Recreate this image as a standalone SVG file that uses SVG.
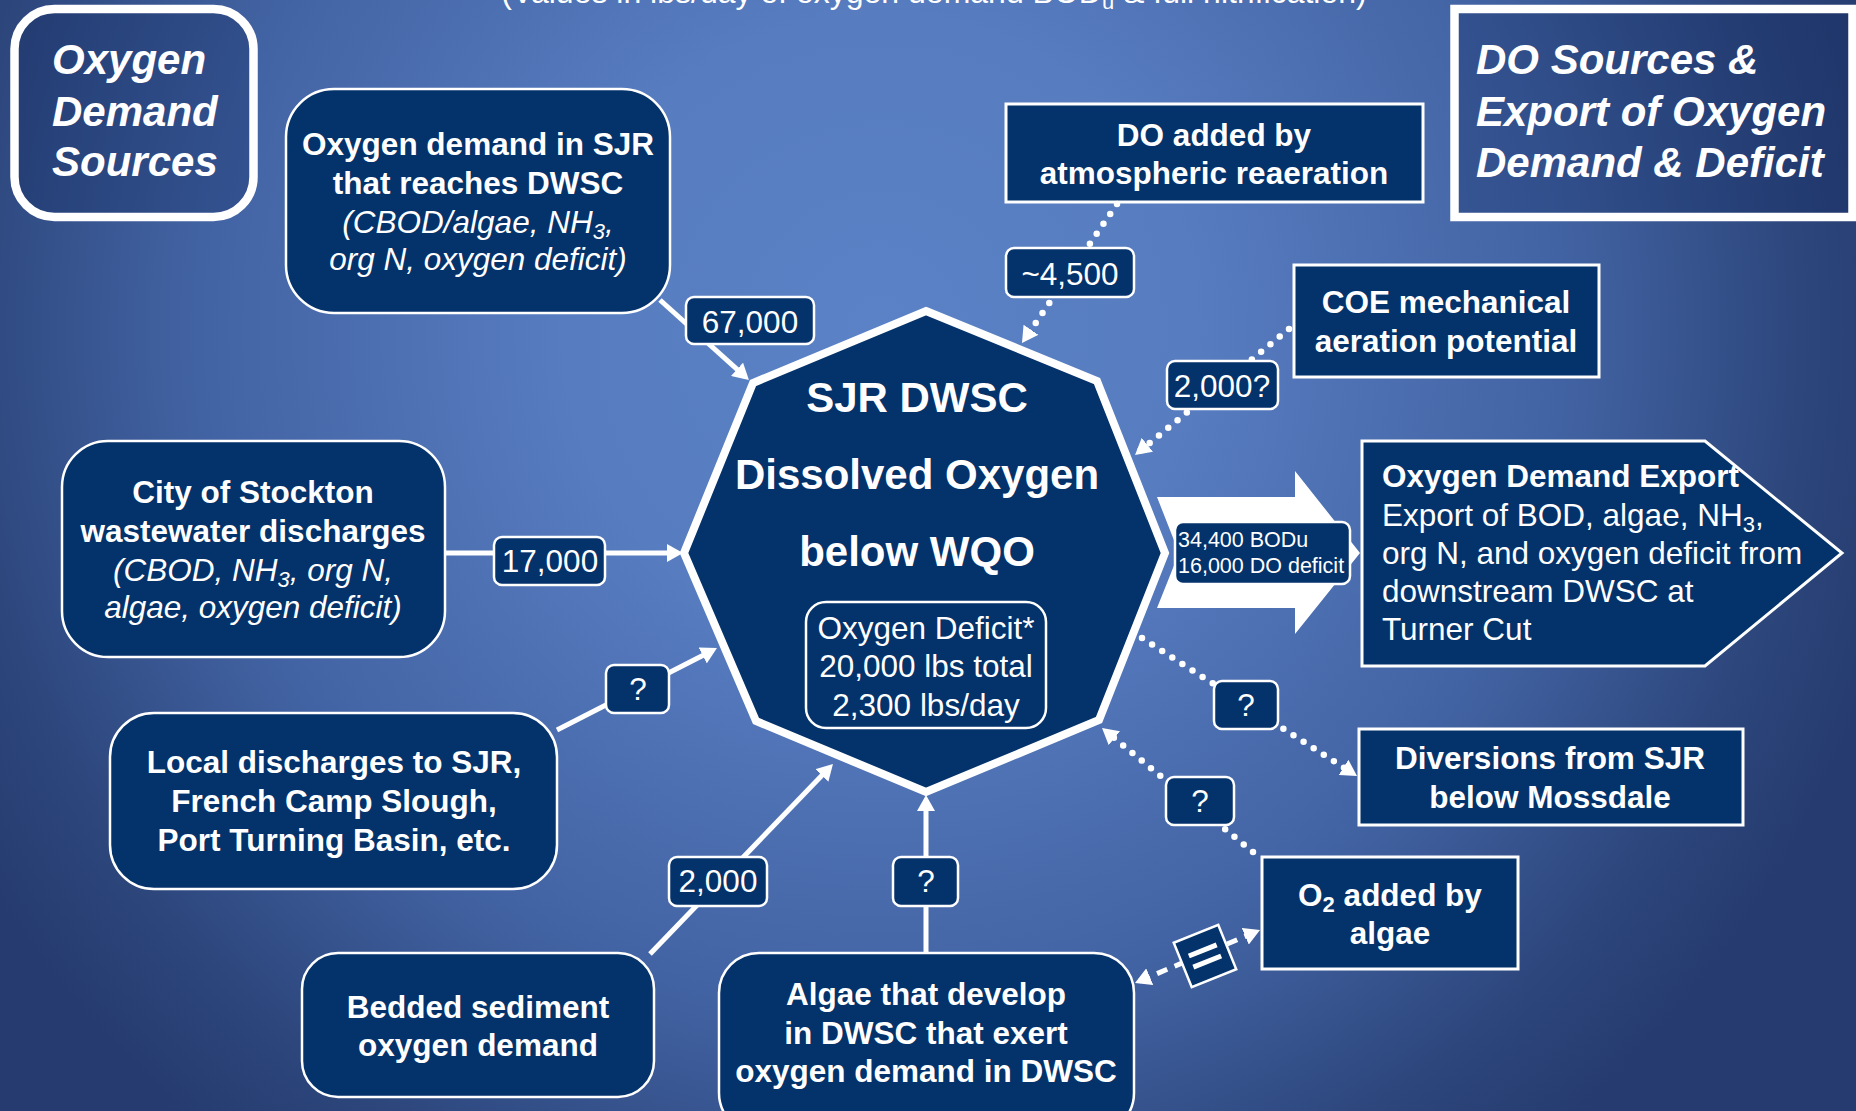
<svg xmlns="http://www.w3.org/2000/svg" width="1856" height="1111" viewBox="0 0 1856 1111">
<defs>
<radialGradient id="bg" gradientUnits="userSpaceOnUse" cx="880" cy="330" r="1050">
<stop offset="0" stop-color="#5b82c6"/>
<stop offset="0.3" stop-color="#577cc0"/>
<stop offset="0.65" stop-color="#4263a3"/>
<stop offset="0.9" stop-color="#2b4479"/>
<stop offset="1" stop-color="#263c70"/>
</radialGradient>
<marker id="ah" viewBox="0 0 16 18" refX="11" refY="9" markerWidth="16" markerHeight="18" markerUnits="userSpaceOnUse" orient="auto-start-reverse">
<path d="M0,0 L16,9 L0,18 z" fill="#fff"/>
</marker>
<style>
.nb{fill:#04326b;stroke:#fff;stroke-width:2.5}
.nr{fill:#04326b;stroke:#fff;stroke-width:3}
.tbox{fill:#0d2459;fill-opacity:0.3;stroke:#fff;stroke-width:8.5}
.t{font-family:"Liberation Sans",Arial,sans-serif;fill:#fff;font-size:31.5px}
.b{font-weight:bold}
.i{font-style:italic}
.m{text-anchor:middle}
.big{font-size:42px}
.small{font-size:21.5px}
.top{font-size:32px}
.title{font-family:"Liberation Sans",Arial,sans-serif;fill:#fff;font-size:42px;font-weight:bold;font-style:italic}
.solid{fill:none;stroke:#fff;stroke-width:5;marker-end:url(#ah)}
.dot{fill:none;stroke:#fff;stroke-width:6.5;stroke-linecap:round;stroke-dasharray:0 12;marker-end:url(#ah)}
.dash{fill:none;stroke:#fff;stroke-width:5;stroke-dasharray:11 8;marker-start:url(#ah);marker-end:url(#ah)}
.lb{fill:#04326b;stroke:#fff;stroke-width:2.5}
</style>
</defs>
<rect x="0" y="0" width="1856" height="1111" fill="url(#bg)"/>

<text class="t m top" x="934" y="3">(Values in lbs/day of oxygen demand BOD<tspan dy="6" font-size="22">u</tspan><tspan dy="-6"> &amp; full nitrification)</tspan></text>

<g id="node-oxygen-demand-sources">
<rect class="tbox" x="14.5" y="9" width="239" height="208" rx="40"/>
<text class="title" x="52" y="74">Oxygen</text>
<text class="title" x="52" y="126">Demand</text>
<text class="title" x="52" y="176">Sources</text>
</g>

<g id="node-do-sources">
<rect class="tbox" x="1454.5" y="9" width="398" height="208"/>
<text class="title" x="1476" y="74">DO Sources &amp;</text>
<text class="title" x="1476" y="126">Export of Oxygen</text>
<text class="title" x="1476" y="177">Demand &amp; Deficit</text>
</g>

<g id="node-sjr-demand">
<rect class="nb" x="286" y="89" width="384" height="224" rx="48"/>
<text class="t b m" x="478" y="155">Oxygen demand in SJR</text>
<text class="t b m" x="478" y="194">that reaches DWSC</text>
<text class="t i m" x="478" y="233">(CBOD/algae, NH<tspan dy="6" font-size="22">3</tspan><tspan dy="-6">,</tspan></text>
<text class="t i m" x="478" y="270">org N, oxygen deficit)</text>
</g>

<g id="node-stockton">
<rect class="nb" x="62" y="441" width="383" height="216" rx="46"/>
<text class="t b m" x="253" y="503">City of Stockton</text>
<text class="t b m" x="253" y="542">wastewater discharges</text>
<text class="t i m" x="253" y="581">(CBOD, NH<tspan dy="6" font-size="22">3</tspan><tspan dy="-6">, org N,</tspan></text>
<text class="t i m" x="253" y="618">algae, oxygen deficit)</text>
</g>

<g id="node-local">
<rect class="nb" x="110" y="713" width="447" height="176" rx="44"/>
<text class="t b m" x="334" y="773">Local discharges to SJR,</text>
<text class="t b m" x="334" y="812">French Camp Slough,</text>
<text class="t b m" x="334" y="851">Port Turning Basin, etc.</text>
</g>

<g id="node-bedded">
<rect class="nb" x="302" y="953" width="352" height="144" rx="36"/>
<text class="t b m" x="478" y="1018">Bedded sediment</text>
<text class="t b m" x="478" y="1056">oxygen demand</text>
</g>

<g id="node-algae">
<rect class="nb" x="719" y="953" width="415" height="180" rx="40"/>
<text class="t b m" x="926" y="1005">Algae that develop</text>
<text class="t b m" x="926" y="1044">in DWSC that exert</text>
<text class="t b m" x="926" y="1082">oxygen demand in DWSC</text>
</g>

<g id="node-dwsc">
<polygon points="926,311 1097,381 1165,553 1099,720 926,792 756,721 684,553 753,383" fill="#04326b" stroke="#fff" stroke-width="8" stroke-linejoin="miter"/>
<text class="t b m big" x="917" y="412">SJR DWSC</text>
<text class="t b m big" x="917" y="489">Dissolved Oxygen</text>
<text class="t b m big" x="917" y="566">below WQO</text>
<rect x="806" y="602" width="240" height="126" rx="20" fill="none" stroke="#fff" stroke-width="2.5"/>
<text class="t m" x="926" y="639">Oxygen Deficit*</text>
<text class="t m" x="926" y="677">20,000 lbs total</text>
<text class="t m" x="926" y="716">2,300 lbs/day</text>
</g>

<g id="node-reaeration">
<rect class="nr" x="1006" y="104" width="417" height="98"/>
<text class="t b m" x="1214" y="146">DO added by</text>
<text class="t b m" x="1214" y="184">atmospheric reaeration</text>
</g>

<g id="node-coe">
<rect class="nr" x="1294" y="265" width="305" height="112"/>
<text class="t b m" x="1446" y="313">COE mechanical</text>
<text class="t b m" x="1446" y="352">aeration potential</text>
</g>

<g id="node-export">
<polygon points="1362,441 1705,441 1842,553 1705,666 1362,666" fill="#04326b" stroke="#fff" stroke-width="3"/>
<text class="t b" x="1382" y="487">Oxygen Demand Export</text>
<text class="t" x="1382" y="526">Export of BOD, algae, NH<tspan dy="6" font-size="22">3</tspan><tspan dy="-6">,</tspan></text>
<text class="t" x="1382" y="564">org N, and oxygen deficit from</text>
<text class="t" x="1382" y="602">downstream DWSC at</text>
<text class="t" x="1382" y="640">Turner Cut</text>
</g>

<g id="node-diversions">
<rect class="nr" x="1359" y="729" width="384" height="96"/>
<text class="t b m" x="1550" y="769">Diversions from SJR</text>
<text class="t b m" x="1550" y="808">below Mossdale</text>
</g>

<g id="node-o2-algae">
<rect class="nr" x="1262" y="857" width="256" height="112"/>
<text class="t b m" x="1390" y="906">O<tspan dy="6" font-size="22">2</tspan><tspan dy="-6"> added by</tspan></text>
<text class="t b m" x="1390" y="944">algae</text>
</g>

<g id="connectors">
<path class="solid" d="M660,300 L745.2,376.7"/>
<path class="solid" d="M445,553 L678,553"/>
<path class="solid" d="M557,730 L712.5,650.4"/>
<path class="solid" d="M650,954 L829.5,767.6"/>
<path class="solid" d="M926,954 L926,800"/>
<path class="dot" d="M1117,204 L1024.8,338.9"/>
<path class="dot" d="M1289,329 L1138.9,451.8"/>
<path class="dot" d="M1142,638 L1352.8,773.3"/>
<path class="dot" d="M1253,852 L1105.9,731.2"/>
<path class="dash" d="M1139.6,981 L1255.4,932"/>
<polygon points="1157,497 1295,497 1295,471 1360,553 1295,634 1295,608 1157,608 1179,553" fill="#fff"/>
<g transform="translate(1205,956) rotate(-22)">
<rect x="-24" y="-24" width="48" height="48" fill="#04326b" stroke="#fff" stroke-width="2.5"/>
<path d="M-15,-6 L15,-6 M-15,6 L15,6" stroke="#fff" stroke-width="5"/>
</g>
</g>

<g id="labels">
<rect class="lb" x="686" y="297" width="128" height="47" rx="8"/>
<text class="t m" x="750" y="333">67,000</text>
<rect class="lb" x="1006" y="248" width="128" height="49" rx="8"/>
<text class="t m" x="1070" y="285">~4,500</text>
<rect class="lb" x="1167" y="361" width="111" height="48" rx="8"/>
<text class="t m" x="1222" y="397">2,000?</text>
<rect class="lb" x="494" y="537" width="111" height="48" rx="8"/>
<text class="t m" x="550" y="572">17,000</text>
<rect class="lb" x="606" y="665" width="63" height="48" rx="8"/>
<text class="t m" x="638" y="700">?</text>
<rect class="lb" x="669" y="857" width="98" height="49" rx="8"/>
<text class="t m" x="718" y="892">2,000</text>
<rect class="lb" x="893" y="857" width="65" height="49" rx="8"/>
<text class="t m" x="926" y="892">?</text>
<rect class="lb" x="1214" y="681" width="64" height="48" rx="8"/>
<text class="t m" x="1246" y="716">?</text>
<rect class="lb" x="1166" y="777" width="68" height="48" rx="8"/>
<text class="t m" x="1200" y="812">?</text>
<rect class="lb" x="1175" y="522" width="175" height="62" rx="8"/>
<text class="t small" x="1178" y="547">34,400 BODu</text>
<text class="t small" x="1178" y="573">16,000 DO deficit</text>
</g>
</svg>
